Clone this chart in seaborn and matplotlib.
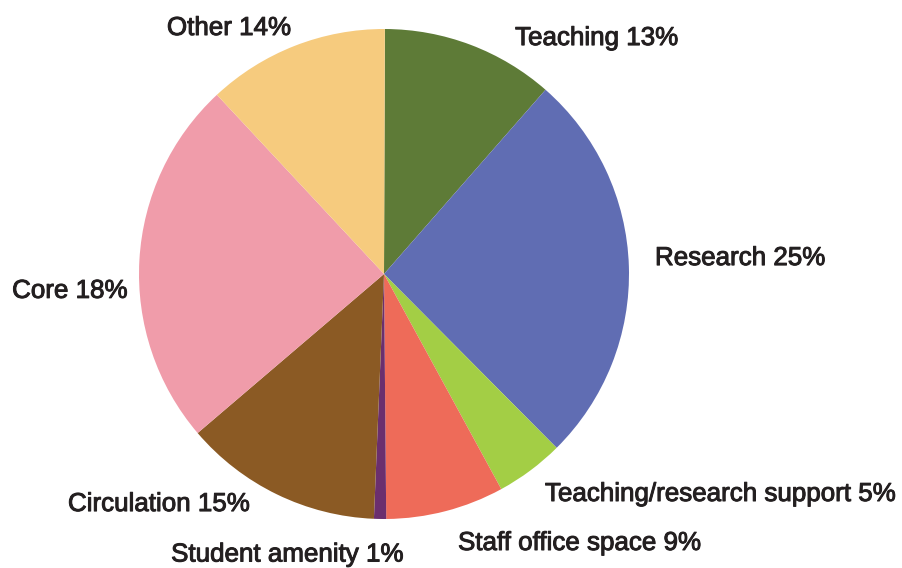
import matplotlib
matplotlib.use("Agg")
import matplotlib.pyplot as plt
import matplotlib.patheffects as pe
import seaborn as sns

sns.set_theme(style="white")
plt.rcParams['font.family'] = ['Liberation Sans', 'DejaVu Sans']

# Slice sizes as drawn (degrees converted to %), labels as printed
categories = ['Teaching', 'Research', 'Teaching/research support', 'Staff office space',
              'Student amenity', 'Circulation', 'Core', 'Other']
slice_share = [11.4, 26.1, 4.5, 7.8, 0.8, 13.1, 24.3, 12.0]
label_pct = [13, 25, 5, 9, 1, 15, 18, 14]
colors = ['#5e7b37', '#606db3', '#a3ce45', '#ee6b59', '#6b2f6e', '#8b5a24', '#f09caa', '#f6cb7e']

# label anchor positions (left edge, vertical centre) in pie radius units
label_pos = [(0.535, 0.963), (1.106, 0.065), (0.657, -0.898), (0.302, -1.098),
             (-0.869, -1.145), (-1.290, -0.939), (-1.518, -0.069), (-0.886, 1.004)]

W, H = 903, 568
cx, cy, r = 384, 274, 245
fig = plt.figure(figsize=(W / 100, H / 100), dpi=100)
ax = fig.add_axes([(cx - r) / W, (H - cy - r) / H, 2 * r / W, 2 * r / H])

ax.pie(slice_share, colors=colors, startangle=89.8, counterclock=False, radius=1,
       wedgeprops=dict(linewidth=0))
ax.set_xlim(-1, 1)
ax.set_ylim(-1, 1)
ax.set_aspect('equal')
ax.axis('off')

for name, pct, (x, y) in zip(categories, label_pct, label_pos):
    ax.text(x, y, f'{name} {pct}%', ha='left', va='center', fontsize=18.7,
            color='#231f20', clip_on=False,
            path_effects=[pe.withStroke(linewidth=0.7, foreground='#231f20')])

fig.savefig('out.png', dpi=100)
